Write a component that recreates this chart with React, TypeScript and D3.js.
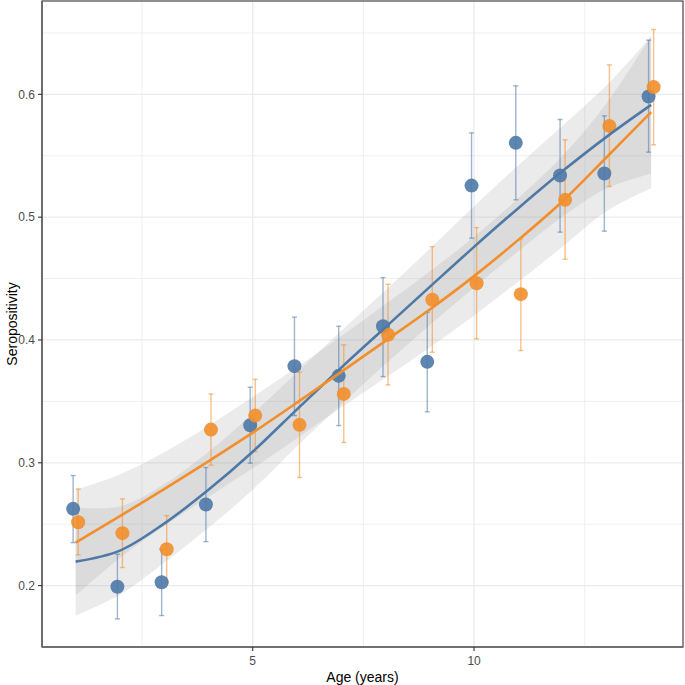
import React from "react";
import * as d3 from "d3";

const ages = [1, 2, 3, 4, 5, 6, 7, 8, 9, 10, 11, 12, 13, 14];

const blueVals = [0.2625, 0.199, 0.2027, 0.266, 0.3306, 0.3787, 0.3708, 0.4112, 0.3822, 0.5257, 0.5605, 0.5339, 0.5355, 0.5982];
const blueLow = [0.235, 0.1729, 0.1756, 0.2358, 0.2997, 0.3384, 0.3303, 0.3702, 0.3415, 0.4829, 0.5141, 0.4878, 0.4886, 0.5529];
const blueHigh = [0.2896, 0.2256, 0.2296, 0.2961, 0.3615, 0.4186, 0.4112, 0.4508, 0.4226, 0.5686, 0.6069, 0.5795, 0.5825, 0.6441];

const orangeVals = [0.2516, 0.2427, 0.2296, 0.327, 0.3384, 0.3309, 0.3561, 0.4042, 0.4327, 0.4462, 0.4373, 0.5141, 0.5743, 0.6059];
const orangeLow = [0.225, 0.2147, 0.2024, 0.298, 0.309, 0.288, 0.3165, 0.3634, 0.39, 0.4009, 0.3914, 0.4658, 0.5249, 0.5589];
const orangeHigh = [0.2787, 0.2706, 0.257, 0.356, 0.368, 0.3738, 0.396, 0.4454, 0.476, 0.4915, 0.4823, 0.563, 0.624, 0.6528];

const blueFit = [0.2195, 0.2285, 0.2505, 0.278, 0.309, 0.3435, 0.3775, 0.4104, 0.4432, 0.4758, 0.5073, 0.5375, 0.5656, 0.5914];
const blueFitLo = [0.1755, 0.1925, 0.2185, 0.247, 0.278, 0.3135, 0.3475, 0.3804, 0.4122, 0.4428, 0.4723, 0.5005, 0.5236, 0.5354];
const blueFitHi = [0.2635, 0.2645, 0.2825, 0.309, 0.34, 0.3735, 0.4075, 0.4404, 0.4742, 0.5088, 0.5423, 0.5745, 0.6076, 0.6474];

const orangeFit = [0.235, 0.2565, 0.2785, 0.3012, 0.3245, 0.349, 0.374, 0.3993, 0.4248, 0.452, 0.4815, 0.513, 0.549, 0.5855];
const orangeFitLo = [0.192, 0.2225, 0.2485, 0.2722, 0.2955, 0.32, 0.345, 0.3693, 0.3938, 0.42, 0.4475, 0.476, 0.505, 0.5235];
const orangeFitHi = [0.278, 0.2905, 0.3085, 0.3302, 0.3535, 0.378, 0.403, 0.4293, 0.4558, 0.484, 0.5155, 0.55, 0.593, 0.6475];

const xTicks = [5, 10];
const xMinor = [2.5, 7.5, 12.5];
const yTicks = [0.2, 0.3, 0.4, 0.5, 0.6];
const yMinor = [0.15, 0.25, 0.35, 0.45, 0.55, 0.65];

const BLUE = "#4e79a7";
const ORANGE = "#f28e2b";

export default function App() {
  const W = 685, H = 685;
  const L = 42, R = 683, T = 1, B = 647;
  const x = d3.scaleLinear().domain([0.24, 14.72]).range([L, R]);
  const y = d3.scaleLinear().domain([0.15, 0.676]).range([B, T]);
  const dodge = 0.057;
  const font = "Liberation Sans, Arial, sans-serif";
  const curve = d3.curveCatmullRom.alpha(0.5);

  const series = [
    { color: BLUE, vals: blueVals, lo: blueLow, hi: blueHigh, fit: blueFit, flo: blueFitLo, fhi: blueFitHi, off: -dodge },
    { color: ORANGE, vals: orangeVals, lo: orangeLow, hi: orangeHigh, fit: orangeFit, flo: orangeFitLo, fhi: orangeFitHi, off: dodge },
  ];

  const area = d3
    .area<number>()
    .x((_, i) => x(ages[i]))
    .curve(curve);

  return (
    <svg width={W} height={H} style={{ position: "absolute", left: 0, top: 0, background: "#fff" }}>
      <rect x={L} y={T} width={R - L} height={B - T} fill="#fff" />
      {/* grid */}
      <g>
        {yMinor.filter((v) => y(v) > T && y(v) < B).map((v) => (
          <line key={"ym" + v} x1={L} x2={R} y1={y(v)} y2={y(v)} stroke="#ebebeb" strokeWidth={0.8} />
        ))}
        {xMinor.map((v) => (
          <line key={"xm" + v} x1={x(v)} x2={x(v)} y1={T} y2={B} stroke="#ebebeb" strokeWidth={0.8} />
        ))}
        {yTicks.map((v) => (
          <line key={"yg" + v} x1={L} x2={R} y1={y(v)} y2={y(v)} stroke="#ebebeb" strokeWidth={1.3} />
        ))}
        {xTicks.map((v) => (
          <line key={"xg" + v} x1={x(v)} x2={x(v)} y1={T} y2={B} stroke="#ebebeb" strokeWidth={1.3} />
        ))}
      </g>
      {/* ribbons */}
      {series.map((s, k) => (
        <path
          key={"rib" + k}
          d={area.y0((_, i) => y(s.flo[i])).y1((_, i) => y(s.fhi[i]))(ages) || ""}
          fill="#999999"
          fillOpacity={0.2}
        />
      ))}
      {/* error bars */}
      {series.map((s, k) => (
        <g key={"eb" + k} stroke={s.color} strokeOpacity={0.55} strokeWidth={1.4}>
          {ages.map((a, i) => {
            const cx = x(a + s.off);
            return (
              <g key={i}>
                <line x1={cx} x2={cx} y1={y(s.lo[i])} y2={y(s.hi[i])} />
                <line x1={cx - 2.5} x2={cx + 2.5} y1={y(s.lo[i])} y2={y(s.lo[i])} />
                <line x1={cx - 2.5} x2={cx + 2.5} y1={y(s.hi[i])} y2={y(s.hi[i])} />
              </g>
            );
          })}
        </g>
      ))}
      {/* points */}
      {series.map((s, k) => (
        <g key={"pt" + k}>
          {ages.map((a, i) => (
            <circle key={i} cx={x(a + s.off)} cy={y(s.vals[i])} r={7} fill={s.color} fillOpacity={0.9} />
          ))}
        </g>
      ))}
      {/* fit lines */}
      {series.map((s, k) => (
        <path
          key={"fit" + k}
          d={
            d3
              .line<number>()
              .x((a) => x(a))
              .y((_, i) => y(s.fit[i]))
              .curve(curve)(ages) || ""
          }
          fill="none"
          stroke={s.color}
          strokeWidth={2.6}
        />
      ))}
      {/* border */}
      <rect x={L} y={T} width={R - L} height={B - T} fill="none" stroke="#333" strokeWidth={1.1} />
      <line x1={L} x2={L} y1={T} y2={B} stroke="#666" strokeWidth={1.6} />
      <line x1={L} x2={R} y1={B} y2={B} stroke="#666" strokeWidth={1.6} />
      {/* y axis */}
      {yTicks.map((v) => (
        <g key={"yt" + v}>
          <line x1={L - 4} x2={L} y1={y(v)} y2={y(v)} stroke="#333" strokeWidth={1.1} />
          <text x={L - 7} y={y(v)} dy="0.35em" textAnchor="end" fontSize={12} fill="#4d4d4d" fontFamily={font}>
            {v.toFixed(1)}
          </text>
        </g>
      ))}
      {/* x axis */}
      {xTicks.map((v) => (
        <g key={"xt" + v}>
          <line x1={x(v)} x2={x(v)} y1={B} y2={B + 4} stroke="#333" strokeWidth={1.1} />
          <text x={x(v)} y={B + 14} dy="0.35em" textAnchor="middle" fontSize={12} fill="#4d4d4d" fontFamily={font}>
            {v}
          </text>
        </g>
      ))}
      <text x={(L + R) / 2} y={677} dy="0.35em" textAnchor="middle" fontSize={14} fill="#000" fontFamily={font}>
        Age (years)
      </text>
      <text
        transform={`translate(12, ${(T + B) / 2}) rotate(-90)`}
        dy="0.35em"
        textAnchor="middle"
        fontSize={14}
        fill="#000"
        fontFamily={font}
      >
        Seropositivity
      </text>
    </svg>
  );
}
